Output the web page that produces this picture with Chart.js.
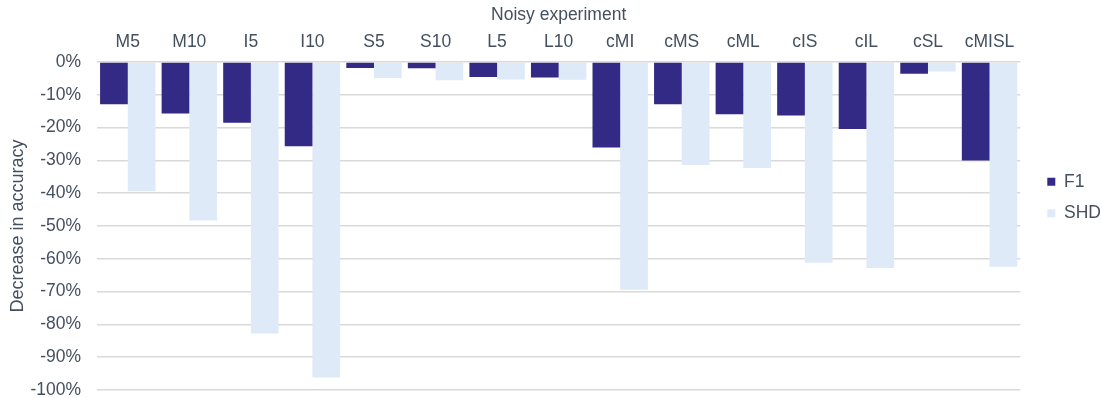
<!DOCTYPE html>
<html>
<head>
<meta charset="utf-8">
<script src="https://cdn.jsdelivr.net/npm/chart.js@4/dist/chart.umd.min.js"></script>
<style>
  html, body { margin: 0; padding: 0; background: #ffffff; }
  #wrap { width: 1102px; height: 398px; position: relative; }
</style>
</head>
<body>
<div id="wrap"><canvas id="c" width="1102" height="398"></canvas></div>
<script>
// Experiment categories
const categories = ['M5', 'M10', 'I5', 'I10', 'S5', 'S10', 'L5', 'L10', 'cMI', 'cMS', 'cML', 'cIS', 'cIL', 'cSL', 'cMISL'];

// Decrease in accuracy (fraction) per metric
const f1Values  = [-0.129, -0.157, -0.185, -0.257, -0.018, -0.019, -0.046, -0.047, -0.261, -0.129, -0.159, -0.163, -0.204, -0.036, -0.300];
const shdValues = [-0.394, -0.483, -0.828, -0.962, -0.049, -0.056, -0.053, -0.054, -0.694, -0.314, -0.323, -0.612, -0.628, -0.029, -0.624];

// Y tick values
const yTicks = [-1.0, -0.9, -0.8, -0.7, -0.6, -0.5, -0.4, -0.3, -0.2, -0.1, 0];

const textColor = '#44505f';
const fontFamily = '"Liberation Sans", Arial, Helvetica, sans-serif';

// Nudge the legend block to the right of its default slot
const legendShift = {
  id: 'legendShift',
  afterLayout(chart) {
    const lg = chart.legend;
    if (!lg) return;
    const dx = 13;
    lg.left += dx;
    lg.right += dx;
  }
};

new Chart(document.getElementById('c'), {
  type: 'bar',
  data: {
    labels: categories,
    datasets: [
      { label: 'F1',  data: f1Values,  backgroundColor: '#332a86', borderWidth: 0 },
      { label: 'SHD', data: shdValues, backgroundColor: '#deeaf7', borderWidth: 0 }
    ]
  },
  plugins: [legendShift],
  options: {
    responsive: false,
    animation: false,
    devicePixelRatio: 1,
    layout: { padding: { left: 4, right: 4, top: 5, bottom: 8 } },
    datasets: {
      bar: { categoryPercentage: 0.9, barPercentage: 1.0 }
    },
    plugins: {
      tooltip: { enabled: false },
      legend: {
        position: 'right',
        labels: {
          boxWidth: 8,
          boxHeight: 8,
          padding: 14,
          color: textColor,
          font: { family: fontFamily, size: 17.5 }
        }
      }
    },
    scales: {
      x: {
        position: 'top',
        grid: { display: false, drawTicks: false },
        border: { display: false },
        ticks: {
          color: textColor,
          padding: 9,
          font: { family: fontFamily, size: 17.5 },
          maxRotation: 0
        },
        title: {
          display: true,
          text: 'Noisy experiment',
          color: textColor,
          font: { family: fontFamily, size: 17.5 },
          padding: { top: 0, bottom: -3 }
        }
      },
      y: {
        min: -1,
        max: 0,
        afterBuildTicks: (axis) => { axis.ticks = yTicks.map(v => ({ value: v })); },
        afterFit: (axis) => {
          axis.width = 93;
          axis.paddingTop = 0;
          axis.paddingBottom = 0;
        },
        grid: {
          color: '#d9d9d9',
          lineWidth: 1.5,
          drawTicks: false
        },
        border: { display: false },
        ticks: {
          color: textColor,
          padding: 16,
          font: { family: fontFamily, size: 17.5 },
          callback: (v) => Math.round(v * 100) + '%'
        },
        title: {
          display: true,
          text: 'Decrease in accuracy',
          color: textColor,
          font: { family: fontFamily, size: 18 },
          padding: { top: 3, bottom: 0 }
        }
      }
    }
  }
});
</script>
</body>
</html>
